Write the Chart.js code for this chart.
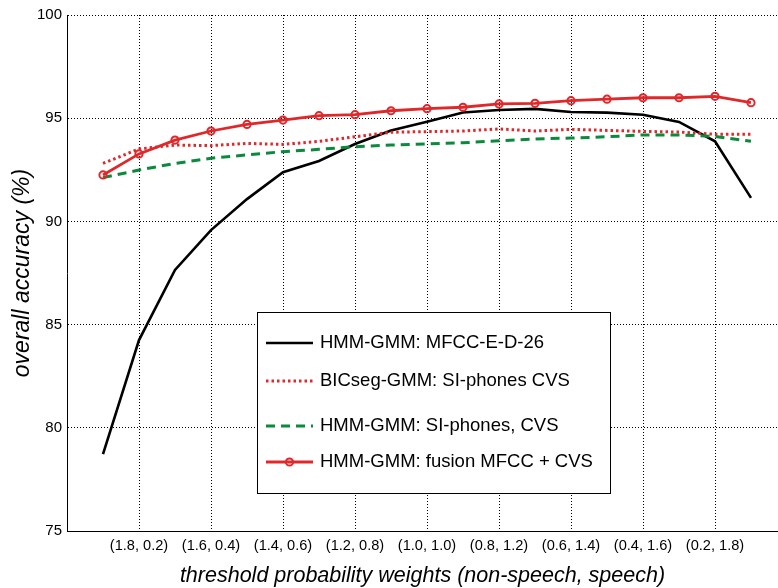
<!DOCTYPE html>
<html>
<head>
<meta charset="utf-8">
<script src="https://cdn.jsdelivr.net/npm/chart.js@4.4.1/dist/chart.umd.min.js"></script>
<style>
    html, body { margin: 0; padding: 0; background: #fff; }
</style>
</head>
<body>
<canvas id="accuracy_chart" width="778" height="588"></canvas>
<script>
    // x positions of the 19 threshold settings (labels sit on every 2nd one)
    const steps = [1, 2, 3, 4, 5, 6, 7, 8, 9, 10, 11, 12, 13, 14, 15, 16, 17, 18, 19];
    const tickPos = [2, 4, 6, 8, 10, 12, 14, 16, 18];
    const tickLabels = ['(1.8, 0.2)', '(1.6, 0.4)', '(1.4, 0.6)', '(1.2, 0.8)', '(1.0, 1.0)',
                        '(0.8, 1.2)', '(0.6, 1.4)', '(0.4, 1.6)', '(0.2, 1.8)'];

    const seriesNames = ['HMM-GMM: MFCC-E-D-26', 'BICseg-GMM: SI-phones CVS',
                         'HMM-GMM: SI-phones, CVS', 'HMM-GMM: fusion MFCC + CVS'];

    const mfcc = [78.72, 84.25, 87.65, 89.58, 91.08, 92.38, 92.93, 93.75, 94.40, 94.83,
                  95.28, 95.40, 95.45, 95.30, 95.27, 95.17, 94.82, 93.88, 91.14];
    const bicseg = [92.81, 93.51, 93.70, 93.67, 93.78, 93.73, 93.88, 94.10, 94.32, 94.35,
                    94.38, 94.48, 94.38, 94.46, 94.41, 94.36, 94.33, 94.22, 94.22];
    const siPhones = [92.12, 92.49, 92.81, 93.06, 93.22, 93.38, 93.49, 93.62, 93.70, 93.75,
                      93.81, 93.91, 93.99, 94.04, 94.10, 94.19, 94.19, 94.12, 93.88];
    const fusion = [92.25, 93.27, 93.94, 94.38, 94.70, 94.91, 95.12, 95.17, 95.36, 95.46,
                    95.53, 95.69, 95.72, 95.85, 95.92, 95.99, 95.99, 96.06, 95.75];

    const RED = '#e0282b';
    const GREEN = '#0b8a3c';
    const FONT = '"Liberation Sans", Arial, sans-serif';

    function toPoints(values) {
        return values.map((v, i) => ({ x: steps[i], y: v }));
    }

    // MATLAB style legend box sitting inside the axes
    const legendBox = {
        id: 'legendBox',
        afterDatasetsDraw(chart) {
            const ctx = chart.ctx;
            const x0 = 257, y0 = 312, w = 353, h = 181;
            const rows = [343, 381, 426, 462];
            ctx.save();
            ctx.fillStyle = '#fff';
            ctx.fillRect(x0, y0, w, h);
            ctx.strokeStyle = '#000';
            ctx.lineWidth = 1;
            ctx.setLineDash([]);
            ctx.strokeRect(x0 + 0.5, y0 + 0.5, w, h);

            chart.data.datasets.forEach(function(ds, i) {
                const y = rows[i];
                ctx.beginPath();
                ctx.strokeStyle = ds.borderColor;
                ctx.lineWidth = ds.borderWidth;
                ctx.setLineDash(ds.borderDash || []);
                ctx.moveTo(266, y);
                ctx.lineTo(313, y);
                ctx.stroke();
                if (ds.pointRadius > 0) {
                    ctx.setLineDash([]);
                    ctx.lineWidth = ds.pointBorderWidth;
                    ctx.beginPath();
                    ctx.arc(289.5, y, ds.pointRadius, 0, Math.PI * 2);
                    ctx.stroke();
                }
                ctx.fillStyle = '#000';
                ctx.font = '18.5px ' + FONT;
                ctx.textBaseline = 'middle';
                ctx.textAlign = 'left';
                ctx.fillText(ds.label, 320, y);
            });
            ctx.restore();
        }
    };

    var ctx = document.getElementById('accuracy_chart').getContext('2d');

    var data = {
        datasets: [
            {
                label: seriesNames[0],
                data: toPoints(mfcc),
                borderColor: '#000',
                borderWidth: 2.6,
                pointRadius: 0,
                order: 4
            },
            {
                label: seriesNames[1],
                data: toPoints(bicseg),
                borderColor: RED,
                borderWidth: 3,
                borderDash: [2.5, 3],
                pointRadius: 0,
                order: 3
            },
            {
                label: seriesNames[2],
                data: toPoints(siPhones),
                borderColor: GREEN,
                borderWidth: 3,
                borderDash: [9, 6],
                pointRadius: 0,
                order: 2
            },
            {
                label: seriesNames[3],
                data: toPoints(fusion),
                borderColor: RED,
                borderWidth: 2.8,
                pointRadius: 3.6,
                pointBorderWidth: 2,
                pointBorderColor: RED,
                pointBackgroundColor: 'rgba(255,255,255,0)',
                order: 1
            }
        ]
    };

    var options = {
        responsive: false,
        animation: false,
        devicePixelRatio: 1,
        layout: { autoPadding: false, padding: { top: 15, right: 0, bottom: 0, left: 0 } },
        plugins: {
            legend: { display: false },
            tooltip: { enabled: false }
        },
        elements: { line: { tension: 0, borderCapStyle: 'butt' } },
        scales: {
            x: {
                type: 'linear',
                min: 0,
                max: 19.75,
                afterBuildTicks: function(scale) {
                    scale.ticks = tickPos.map(v => ({ value: v }));
                },
                afterFit: function(scale) {
                    scale.height = 57;
                    scale.paddingLeft = 0;
                    scale.paddingRight = 0;
                },
                ticks: {
                    padding: 6,
                    color: '#000',
                    font: { family: FONT, size: 14.6 },
                    maxRotation: 0,
                    autoSkip: false,
                    callback: function(value) {
                        return tickLabels[tickPos.indexOf(value)];
                    }
                },
                grid: { color: '#000', lineWidth: 1, drawTicks: false },
                border: { display: true, color: '#000', width: 1, dash: [1, 2] },
                title: {
                    display: true,
                    text: 'threshold probability weights (non-speech, speech)',
                    color: '#000',
                    font: { family: FONT, size: 21.5, style: 'italic' },
                    padding: { top: 0, bottom: -1 }
                }
            },
            y: {
                min: 75,
                max: 100,
                afterFit: function(scale) { scale.width = 67; },
                ticks: {
                    stepSize: 5,
                    padding: 5,
                    color: '#000',
                    font: { family: FONT, size: 15 }
                },
                grid: { color: '#000', lineWidth: 1, drawTicks: false },
                border: { display: true, color: '#000', width: 1, dash: [1, 2] },
                title: {
                    display: true,
                    text: 'overall accuracy (%)',
                    color: '#000',
                    font: { family: FONT, size: 23, style: 'italic' },
                    padding: { top: 8.5, bottom: 0 }
                }
            }
        }
    };

    var accuracyChart = new Chart(ctx, {
        type: 'line',
        data: data,
        options: options,
        plugins: [legendBox]
    });
</script>
</body>
</html>
